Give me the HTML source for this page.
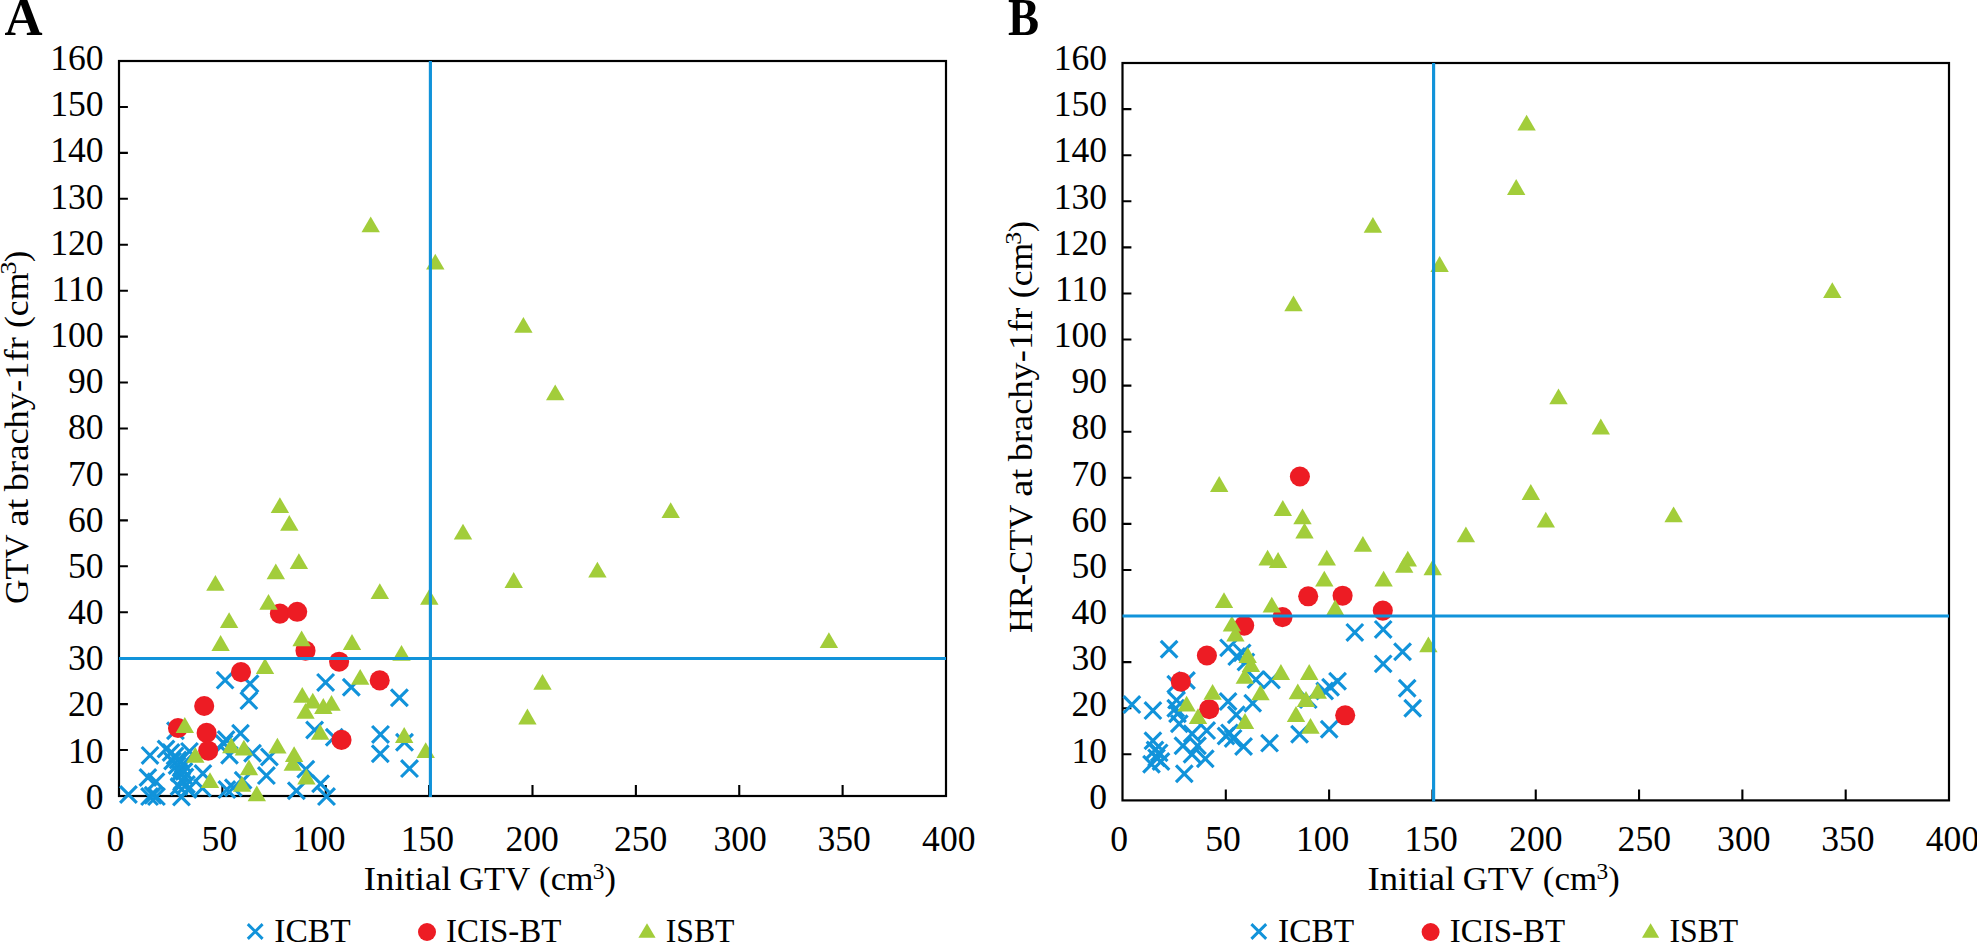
<!DOCTYPE html>
<html><head><meta charset="utf-8"><title>Figure</title>
<style>html,body{margin:0;padding:0;background:#fff;overflow:hidden}svg{display:block}</style>
</head><body>
<svg width="1977" height="943" viewBox="0 0 1977 943">
<rect width="1977" height="943" fill="#fff"/>
<rect x="119" y="61" width="827" height="735" fill="none" stroke="#000" stroke-width="2.2"/>
<path d="M222.38 796V785.1M325.75 796V785.1M429.12 796V785.1M532.50 796V785.1M635.88 796V785.1M739.25 796V785.1M842.62 796V785.1M119 750.06H127.9M119 704.12H127.9M119 658.19H127.9M119 612.25H127.9M119 566.31H127.9M119 520.38H127.9M119 474.44H127.9M119 428.50H127.9M119 382.56H127.9M119 336.62H127.9M119 290.69H127.9M119 244.75H127.9M119 198.81H127.9M119 152.88H127.9M119 106.94H127.9" stroke="#000" stroke-width="2.1" fill="none"/>
<rect x="1122.5" y="63" width="826.5" height="737.4" fill="none" stroke="#000" stroke-width="2.2"/>
<path d="M1225.81 800.4V789.5M1329.12 800.4V789.5M1432.44 800.4V789.5M1535.75 800.4V789.5M1639.06 800.4V789.5M1742.38 800.4V789.5M1845.69 800.4V789.5M1122.5 754.31H1131.4M1122.5 708.23H1131.4M1122.5 662.14H1131.4M1122.5 616.05H1131.4M1122.5 569.96H1131.4M1122.5 523.88H1131.4M1122.5 477.79H1131.4M1122.5 431.70H1131.4M1122.5 385.61H1131.4M1122.5 339.53H1131.4M1122.5 293.44H1131.4M1122.5 247.35H1131.4M1122.5 201.26H1131.4M1122.5 155.18H1131.4M1122.5 109.09H1131.4" stroke="#000" stroke-width="2.1" fill="none"/>
<g stroke="#1193DA" stroke-width="3.15" fill="none"><path d="M216.8 671.8L233.4 688.5M216.8 688.5L233.4 671.8"/><path d="M241.7 675.4L258.4 692.1M241.7 692.1L258.4 675.4"/><path d="M240.5 692.2L257.2 709.0M240.5 709.0L257.2 692.2"/><path d="M317.2 674.0L334.0 690.8M317.2 690.8L334.0 674.0"/><path d="M342.9 678.9L359.7 695.6M342.9 695.6L359.7 678.9"/><path d="M391.0 689.4L407.8 706.1M391.0 706.1L407.8 689.4"/><path d="M306.2 721.6L323.0 738.4M306.2 738.4L323.0 721.6"/><path d="M325.9 728.9L342.7 745.6M325.9 745.6L342.7 728.9"/><path d="M372.1 726.0L388.9 742.8M372.1 742.8L388.9 726.0"/><path d="M371.9 745.4L388.7 762.1M371.9 762.1L388.7 745.4"/><path d="M396.1 733.9L412.9 750.6M396.1 750.6L412.9 733.9"/><path d="M401.1 760.2L417.9 777.0M401.1 777.0L417.9 760.2"/><path d="M297.4 760.9L314.2 777.6M297.4 777.6L314.2 760.9"/><path d="M312.2 775.4L329.0 792.1M312.2 792.1L329.0 775.4"/><path d="M288.0 782.4L304.8 799.1M288.0 799.1L304.8 782.4"/><path d="M318.1 788.2L334.9 805.0M318.1 805.0L334.9 788.2"/><path d="M217.8 731.2L234.4 748.0M217.8 748.0L234.4 731.2"/><path d="M232.2 724.9L248.8 741.6M232.2 741.6L248.8 724.9"/><path d="M215.7 735.1L232.3 751.9M215.7 751.9L232.3 735.1"/><path d="M221.2 746.9L237.8 763.6M221.2 763.6L237.8 746.9"/><path d="M244.2 744.9L260.9 761.6M244.2 761.6L260.9 744.9"/><path d="M261.0 748.6L277.8 765.4M261.0 765.4L277.8 748.6"/><path d="M258.0 767.2L274.8 784.0M258.0 784.0L274.8 767.2"/><path d="M234.8 771.9L251.4 788.6M234.8 788.6L251.4 771.9"/><path d="M218.5 781.2L235.2 798.0M218.5 798.0L235.2 781.2"/><path d="M225.0 779.4L241.7 796.1M225.0 796.1L241.7 779.4"/><path d="M120.1 786.1L136.8 802.9M120.1 802.9L136.8 786.1"/><path d="M141.7 747.0L158.3 763.8M141.7 763.8L158.3 747.0"/><path d="M139.6 769.1L156.2 785.9M139.6 785.9L156.2 769.1"/><path d="M147.7 773.4L164.3 790.1M147.7 790.1L164.3 773.4"/><path d="M141.2 788.2L157.9 805.0M141.2 805.0L157.9 788.2"/><path d="M148.1 788.2L164.8 805.0M148.1 805.0L164.8 788.2"/><path d="M144.7 786.9L161.3 803.6M144.7 803.6L161.3 786.9"/><path d="M173.1 788.6L189.8 805.4M173.1 805.4L189.8 788.6"/><path d="M167.1 722.4L183.8 739.1M167.1 739.1L183.8 722.4"/><path d="M157.7 740.6L174.3 757.4M157.7 757.4L174.3 740.6"/><path d="M162.7 744.1L179.3 760.9M162.7 760.9L179.3 744.1"/><path d="M166.7 747.6L183.3 764.4M166.7 764.4L183.3 747.6"/><path d="M164.2 752.6L180.8 769.4M164.2 769.4L180.8 752.6"/><path d="M169.7 751.6L186.3 768.4M169.7 768.4L186.3 751.6"/><path d="M168.7 757.1L185.3 773.9M168.7 773.9L185.3 757.1"/><path d="M172.7 759.6L189.3 776.4M172.7 776.4L189.3 759.6"/><path d="M171.2 764.6L187.8 781.4M171.2 781.4L187.8 764.6"/><path d="M175.7 763.1L192.3 779.9M175.7 779.9L192.3 763.1"/><path d="M176.7 768.6L193.3 785.4M176.7 785.4L193.3 768.6"/><path d="M173.7 772.6L190.3 789.4M173.7 789.4L190.3 772.6"/><path d="M178.2 776.1L194.8 792.9M178.2 792.9L194.8 776.1"/><path d="M170.7 778.1L187.3 794.9M170.7 794.9L187.3 778.1"/><path d="M179.7 781.1L196.3 797.9M179.7 797.9L196.3 781.1"/><path d="M174.7 755.6L191.3 772.4M174.7 772.4L191.3 755.6"/><path d="M181.1 743.0L197.8 759.8M181.1 759.8L197.8 743.0"/><path d="M194.6 765.1L211.2 781.9M194.6 781.9L211.2 765.1"/><path d="M194.2 779.6L210.8 796.4M194.2 796.4L210.8 779.6"/></g>
<g fill="#ED1C24"><circle cx="279.9" cy="613.6" r="10.05"/><circle cx="297.2" cy="611.8" r="10.05"/><circle cx="305.5" cy="650.7" r="10.05"/><circle cx="339.1" cy="661.7" r="10.05"/><circle cx="379.7" cy="680.4" r="10.05"/><circle cx="241.0" cy="672.1" r="10.05"/><circle cx="204.2" cy="706.0" r="10.05"/><circle cx="178.0" cy="728.0" r="10.05"/><circle cx="206.6" cy="732.9" r="10.05"/><circle cx="208.2" cy="750.7" r="10.05"/><circle cx="341.5" cy="739.9" r="10.05"/></g>
<g fill="#A2CD3A"><path d="M361.5 232.2L370.7 216.4L379.9 232.2Z"/><path d="M426.1 269.6L435.3 253.8L444.5 269.6Z"/><path d="M514.2 332.7L523.4 316.9L532.6 332.7Z"/><path d="M546.0 400.2L555.2 384.4L564.4 400.2Z"/><path d="M661.5 518.1L670.7 502.3L679.9 518.1Z"/><path d="M453.8 539.5L463.0 523.7L472.2 539.5Z"/><path d="M588.2 577.5L597.4 561.7L606.6 577.5Z"/><path d="M504.5 587.9L513.7 572.1L522.9 587.9Z"/><path d="M819.7 648.1L828.9 632.3L838.1 648.1Z"/><path d="M533.3 689.7L542.5 673.9L551.7 689.7Z"/><path d="M518.2 724.4L527.4 708.6L536.6 724.4Z"/><path d="M270.7 513.0L279.9 497.2L289.1 513.0Z"/><path d="M280.1 530.8L289.3 515.0L298.5 530.8Z"/><path d="M289.7 569.0L298.9 553.2L308.1 569.0Z"/><path d="M266.6 579.3L275.8 563.5L285.0 579.3Z"/><path d="M206.2 590.8L215.4 575.0L224.6 590.8Z"/><path d="M370.6 599.0L379.8 583.2L389.0 599.0Z"/><path d="M420.1 604.7L429.3 588.9L438.5 604.7Z"/><path d="M259.3 609.8L268.5 594.0L277.7 609.8Z"/><path d="M219.9 628.1L229.1 612.3L238.3 628.1Z"/><path d="M211.4 650.9L220.6 635.1L229.8 650.9Z"/><path d="M292.4 646.2L301.6 630.4L310.8 646.2Z"/><path d="M342.8 649.9L352.0 634.1L361.2 649.9Z"/><path d="M392.3 660.8L401.5 645.0L410.7 660.8Z"/><path d="M255.8 673.9L265.0 658.1L274.2 673.9Z"/><path d="M351.0 684.7L360.2 668.9L369.4 684.7Z"/><path d="M293.1 702.7L302.3 686.9L311.5 702.7Z"/><path d="M303.6 708.6L312.8 692.8L322.0 708.6Z"/><path d="M314.1 713.9L323.3 698.1L332.5 713.9Z"/><path d="M322.3 710.8L331.5 695.0L340.7 710.8Z"/><path d="M296.3 718.7L305.5 702.9L314.7 718.7Z"/><path d="M175.6 732.9L184.8 717.1L194.0 732.9Z"/><path d="M186.1 762.7L195.3 746.9L204.5 762.7Z"/><path d="M222.1 753.2L231.3 737.4L240.5 753.2Z"/><path d="M234.7 755.5L243.9 739.7L253.1 755.5Z"/><path d="M268.2 753.6L277.4 737.8L286.6 753.6Z"/><path d="M239.8 775.3L249.0 759.5L258.2 775.3Z"/><path d="M200.8 788.1L210.0 772.3L219.2 788.1Z"/><path d="M232.8 791.7L242.0 775.9L251.2 791.7Z"/><path d="M247.6 801.3L256.8 785.5L266.0 801.3Z"/><path d="M310.9 739.8L320.1 724.0L329.3 739.8Z"/><path d="M395.0 742.9L404.2 727.1L413.4 742.9Z"/><path d="M416.5 758.1L425.7 742.3L434.9 758.1Z"/><path d="M284.9 762.1L294.1 746.3L303.3 762.1Z"/><path d="M283.6 770.7L292.8 754.9L302.0 770.7Z"/><path d="M297.2 784.4L306.4 768.6L315.6 784.4Z"/></g>
<g stroke="#1193DA" stroke-width="3.15" fill="none"><path d="M1160.8 640.9L1177.4 657.6M1160.8 657.6L1177.4 640.9"/><path d="M1220.2 639.5L1236.8 656.2M1220.2 656.2L1236.8 639.5"/><path d="M1233.9 644.5L1250.5 661.2M1233.9 661.2L1250.5 644.5"/><path d="M1228.4 648.2L1245.0 665.0M1228.4 665.0L1245.0 648.2"/><path d="M1237.6 653.6L1254.2 670.4M1237.6 670.4L1254.2 653.6"/><path d="M1123.6 696.2L1140.2 713.0M1123.6 713.0L1140.2 696.2"/><path d="M1144.6 702.2L1161.2 719.0M1144.6 719.0L1161.2 702.2"/><path d="M1167.4 675.8L1184.0 692.5M1167.4 692.5L1184.0 675.8"/><path d="M1178.1 672.1L1194.8 688.9M1178.1 688.9L1194.8 672.1"/><path d="M1168.2 691.8L1184.9 708.5M1168.2 708.5L1184.9 691.8"/><path d="M1167.4 699.9L1184.0 716.6M1167.4 716.6L1184.0 699.9"/><path d="M1169.2 705.4L1185.8 722.1M1169.2 722.1L1185.8 705.4"/><path d="M1171.0 715.4L1187.6 732.1M1171.0 732.1L1187.6 715.4"/><path d="M1144.6 732.4L1161.2 749.1M1144.6 749.1L1161.2 732.4"/><path d="M1174.6 737.4L1191.2 754.1M1174.6 754.1L1191.2 737.4"/><path d="M1183.8 725.4L1200.4 742.1M1183.8 742.1L1200.4 725.4"/><path d="M1198.4 722.2L1215.0 739.0M1198.4 739.0L1215.0 722.2"/><path d="M1189.2 737.4L1205.8 754.1M1189.2 754.1L1205.8 737.4"/><path d="M1219.8 693.1L1236.4 709.9M1219.8 709.9L1236.4 693.1"/><path d="M1228.0 706.4L1244.6 723.1M1228.0 723.1L1244.6 706.4"/><path d="M1244.4 694.9L1261.0 711.6M1244.4 711.6L1261.0 694.9"/><path d="M1247.6 671.2L1264.2 688.0M1247.6 688.0L1264.2 671.2"/><path d="M1263.1 671.6L1279.8 688.4M1263.1 688.4L1279.8 671.6"/><path d="M1221.2 724.5L1237.8 741.2M1221.2 741.2L1237.8 724.5"/><path d="M1224.8 730.0L1241.4 746.8M1224.8 746.8L1241.4 730.0"/><path d="M1217.7 727.6L1234.3 744.4M1217.7 744.4L1234.3 727.6"/><path d="M1235.2 738.1L1251.9 754.9M1235.2 754.9L1251.9 738.1"/><path d="M1261.2 734.8L1277.9 751.5M1261.2 751.5L1277.9 734.8"/><path d="M1150.9 744.5L1167.5 761.2M1150.9 761.2L1167.5 744.5"/><path d="M1148.2 749.5L1164.8 766.2M1148.2 766.2L1164.8 749.5"/><path d="M1143.2 755.9L1159.8 772.6M1143.2 772.6L1159.8 755.9"/><path d="M1152.7 753.1L1169.3 769.9M1152.7 769.9L1169.3 753.1"/><path d="M1146.7 741.6L1163.3 758.4M1146.7 758.4L1163.3 741.6"/><path d="M1183.7 745.9L1200.3 762.6M1183.7 762.6L1200.3 745.9"/><path d="M1197.0 750.4L1213.6 767.1M1197.0 767.1L1213.6 750.4"/><path d="M1176.0 765.4L1192.6 782.1M1176.0 782.1L1192.6 765.4"/><path d="M1346.5 624.0L1363.1 640.8M1346.5 640.8L1363.1 624.0"/><path d="M1374.9 621.0L1391.5 637.8M1374.9 637.8L1391.5 621.0"/><path d="M1394.2 643.4L1410.9 660.1M1394.2 660.1L1410.9 643.4"/><path d="M1374.9 655.5L1391.5 672.2M1374.9 672.2L1391.5 655.5"/><path d="M1329.2 672.9L1345.9 689.6M1329.2 689.6L1345.9 672.9"/><path d="M1322.2 678.9L1338.9 695.6M1322.2 695.6L1338.9 678.9"/><path d="M1316.4 682.6L1333.0 699.4M1316.4 699.4L1333.0 682.6"/><path d="M1300.0 691.2L1316.6 708.0M1300.0 708.0L1316.6 691.2"/><path d="M1398.9 679.9L1415.5 696.6M1398.9 696.6L1415.5 679.9"/><path d="M1404.4 699.9L1421.0 716.6M1404.4 716.6L1421.0 699.9"/><path d="M1320.9 720.9L1337.5 737.6M1320.9 737.6L1337.5 720.9"/><path d="M1291.2 725.9L1307.9 742.6M1291.2 742.6L1307.9 725.9"/></g>
<g fill="#ED1C24"><circle cx="1299.9" cy="476.5" r="10.05"/><circle cx="1308.2" cy="596.3" r="10.05"/><circle cx="1342.6" cy="595.7" r="10.05"/><circle cx="1382.8" cy="610.6" r="10.05"/><circle cx="1282.5" cy="617.1" r="10.05"/><circle cx="1244.2" cy="625.6" r="10.05"/><circle cx="1206.9" cy="655.5" r="10.05"/><circle cx="1180.8" cy="681.7" r="10.05"/><circle cx="1209.2" cy="709.2" r="10.05"/><circle cx="1345.2" cy="715.3" r="10.05"/></g>
<g fill="#A2CD3A"><path d="M1517.4 130.6L1526.6 114.8L1535.8 130.6Z"/><path d="M1507.0 194.9L1516.2 179.1L1525.4 194.9Z"/><path d="M1363.7 232.8L1372.9 217.0L1382.1 232.8Z"/><path d="M1430.4 271.9L1439.6 256.1L1448.8 271.9Z"/><path d="M1284.3 311.3L1293.5 295.5L1302.7 311.3Z"/><path d="M1823.1 298.1L1832.3 282.3L1841.5 298.1Z"/><path d="M1549.3 404.2L1558.5 388.4L1567.7 404.2Z"/><path d="M1591.6 434.4L1600.8 418.6L1610.0 434.4Z"/><path d="M1521.6 499.9L1530.8 484.1L1540.0 499.9Z"/><path d="M1536.6 527.6L1545.8 511.8L1555.0 527.6Z"/><path d="M1664.4 522.2L1673.6 506.4L1682.8 522.2Z"/><path d="M1456.7 542.2L1465.9 526.4L1475.1 542.2Z"/><path d="M1210.0 491.9L1219.2 476.1L1228.4 491.9Z"/><path d="M1273.6 515.9L1282.8 500.1L1292.0 515.9Z"/><path d="M1293.3 524.2L1302.5 508.4L1311.7 524.2Z"/><path d="M1295.3 538.6L1304.5 522.8L1313.7 538.6Z"/><path d="M1353.7 551.8L1362.9 536.0L1372.1 551.8Z"/><path d="M1258.4 565.6L1267.6 549.8L1276.8 565.6Z"/><path d="M1268.9 567.9L1278.1 552.1L1287.3 567.9Z"/><path d="M1317.6 565.6L1326.8 549.8L1336.0 565.6Z"/><path d="M1398.6 566.5L1407.8 550.7L1417.0 566.5Z"/><path d="M1395.0 572.8L1404.2 557.0L1413.4 572.8Z"/><path d="M1423.5 575.2L1432.7 559.4L1441.9 575.2Z"/><path d="M1315.1 586.6L1324.3 570.8L1333.5 586.6Z"/><path d="M1374.4 586.6L1383.6 570.8L1392.8 586.6Z"/><path d="M1214.8 608.0L1224.0 592.2L1233.2 608.0Z"/><path d="M1262.6 612.5L1271.8 596.7L1281.0 612.5Z"/><path d="M1326.0 615.4L1335.2 599.6L1344.4 615.4Z"/><path d="M1222.7 631.5L1231.9 615.7L1241.1 631.5Z"/><path d="M1226.2 641.6L1235.4 625.8L1244.6 641.6Z"/><path d="M1238.5 662.9L1247.7 647.1L1256.9 662.9Z"/><path d="M1241.7 672.1L1250.9 656.3L1260.1 672.1Z"/><path d="M1271.7 679.9L1280.9 664.1L1290.1 679.9Z"/><path d="M1235.6 683.7L1244.8 667.9L1254.0 683.7Z"/><path d="M1203.4 699.7L1212.6 683.9L1221.8 699.7Z"/><path d="M1177.4 711.6L1186.6 695.8L1195.8 711.6Z"/><path d="M1188.8 724.0L1198.0 708.2L1207.2 724.0Z"/><path d="M1251.3 700.3L1260.5 684.5L1269.7 700.3Z"/><path d="M1235.8 728.9L1245.0 713.1L1254.2 728.9Z"/><path d="M1419.2 652.2L1428.4 636.4L1437.6 652.2Z"/><path d="M1300.0 679.9L1309.2 664.1L1318.4 679.9Z"/><path d="M1288.6 699.3L1297.8 683.5L1307.0 699.3Z"/><path d="M1308.6 698.8L1317.8 683.0L1327.0 698.8Z"/><path d="M1296.8 706.9L1306.0 691.1L1315.2 706.9Z"/><path d="M1286.8 721.9L1296.0 706.1L1305.2 721.9Z"/><path d="M1301.3 733.7L1310.5 717.9L1319.7 733.7Z"/></g>
<g stroke="#1193DA" stroke-width="3.15" fill="none">
<path d="M430.4 61V797M119 658.5H946"/>
<path d="M1433.6 63V801.4M1122.5 616H1949"/>
</g>
<g font-family="Liberation Serif, serif" fill="#000">
<text x="103.5" y="808.8" font-size="35.6" text-anchor="end">0</text>
<text x="1107.0" y="808.8" font-size="35.6" text-anchor="end">0</text>
<text x="103.5" y="762.6" font-size="35.6" text-anchor="end">10</text>
<text x="1107.0" y="762.6" font-size="35.6" text-anchor="end">10</text>
<text x="103.5" y="716.4" font-size="35.6" text-anchor="end">20</text>
<text x="1107.0" y="716.4" font-size="35.6" text-anchor="end">20</text>
<text x="103.5" y="670.3" font-size="35.6" text-anchor="end">30</text>
<text x="1107.0" y="670.3" font-size="35.6" text-anchor="end">30</text>
<text x="103.5" y="624.1" font-size="35.6" text-anchor="end">40</text>
<text x="1107.0" y="624.1" font-size="35.6" text-anchor="end">40</text>
<text x="103.5" y="577.9" font-size="35.6" text-anchor="end">50</text>
<text x="1107.0" y="577.9" font-size="35.6" text-anchor="end">50</text>
<text x="103.5" y="531.8" font-size="35.6" text-anchor="end">60</text>
<text x="1107.0" y="531.8" font-size="35.6" text-anchor="end">60</text>
<text x="103.5" y="485.6" font-size="35.6" text-anchor="end">70</text>
<text x="1107.0" y="485.6" font-size="35.6" text-anchor="end">70</text>
<text x="103.5" y="439.4" font-size="35.6" text-anchor="end">80</text>
<text x="1107.0" y="439.4" font-size="35.6" text-anchor="end">80</text>
<text x="103.5" y="393.2" font-size="35.6" text-anchor="end">90</text>
<text x="1107.0" y="393.2" font-size="35.6" text-anchor="end">90</text>
<text x="103.5" y="347.0" font-size="35.6" text-anchor="end">100</text>
<text x="1107.0" y="347.0" font-size="35.6" text-anchor="end">100</text>
<text x="103.5" y="300.9" font-size="35.6" text-anchor="end">110</text>
<text x="1107.0" y="300.9" font-size="35.6" text-anchor="end">110</text>
<text x="103.5" y="254.7" font-size="35.6" text-anchor="end">120</text>
<text x="1107.0" y="254.7" font-size="35.6" text-anchor="end">120</text>
<text x="103.5" y="208.5" font-size="35.6" text-anchor="end">130</text>
<text x="1107.0" y="208.5" font-size="35.6" text-anchor="end">130</text>
<text x="103.5" y="162.4" font-size="35.6" text-anchor="end">140</text>
<text x="1107.0" y="162.4" font-size="35.6" text-anchor="end">140</text>
<text x="103.5" y="116.2" font-size="35.6" text-anchor="end">150</text>
<text x="1107.0" y="116.2" font-size="35.6" text-anchor="end">150</text>
<text x="103.5" y="70.0" font-size="35.6" text-anchor="end">160</text>
<text x="1107.0" y="70.0" font-size="35.6" text-anchor="end">160</text>
<text x="106.6" y="850.8" font-size="35.6">0</text>
<text x="1110.3" y="850.8" font-size="35.6">0</text>
<text x="201.6" y="850.8" font-size="35.6">50</text>
<text x="1205.3" y="850.8" font-size="35.6">50</text>
<text x="292.2" y="850.8" font-size="35.6">100</text>
<text x="1295.9" y="850.8" font-size="35.6">100</text>
<text x="400.7" y="850.8" font-size="35.6">150</text>
<text x="1404.4" y="850.8" font-size="35.6">150</text>
<text x="505.4" y="850.8" font-size="35.6">200</text>
<text x="1509.1" y="850.8" font-size="35.6">200</text>
<text x="613.9" y="850.8" font-size="35.6">250</text>
<text x="1617.6" y="850.8" font-size="35.6">250</text>
<text x="713.4" y="850.8" font-size="35.6">300</text>
<text x="1717.1" y="850.8" font-size="35.6">300</text>
<text x="817.5" y="850.8" font-size="35.6">350</text>
<text x="1821.2" y="850.8" font-size="35.6">350</text>
<text x="922.1" y="850.8" font-size="35.6">400</text>
<text x="1925.8" y="850.8" font-size="35.6">400</text>
<text transform="translate(363.83,890.40) scale(1.0337,0.9676)" font-size="35.5">Initial</text>
<text transform="translate(459.12,890.40) scale(0.9732,0.9676)" font-size="35.5">GTV</text>
<text transform="translate(539.10,890.40) scale(0.9840,0.9676)" font-size="35.5">(cm</text>
<text transform="translate(592.73,879.18) scale(0.6596,0.6317)" font-size="35.5">3</text>
<text transform="translate(604.57,890.40) scale(0.9697,0.9676)" font-size="35.5">)</text>
<text transform="translate(1367.53,890.40) scale(1.0337,0.9676)" font-size="35.5">Initial</text>
<text transform="translate(1462.82,890.40) scale(0.9732,0.9676)" font-size="35.5">GTV</text>
<text transform="translate(1542.80,890.40) scale(0.9840,0.9676)" font-size="35.5">(cm</text>
<text transform="translate(1596.43,879.18) scale(0.6596,0.6317)" font-size="35.5">3</text>
<text transform="translate(1608.27,890.40) scale(0.9697,0.9676)" font-size="35.5">)</text>
<text transform="translate(27.60,603.96) rotate(-90) scale(0.9549,0.9676)" font-size="35.5">GTV</text>
<text transform="translate(27.60,526.55) rotate(-90) scale(1.0895,0.9676)" font-size="35.5">at</text>
<text transform="translate(27.60,491.20) rotate(-90) scale(1.0284,0.9676)" font-size="35.5">brachy-1fr</text>
<text transform="translate(27.60,328.03) rotate(-90) scale(1.0047,0.9676)" font-size="35.5">(cm</text>
<text transform="translate(16.37,274.39) rotate(-90) scale(0.7283,0.6402)" font-size="35.5">3</text>
<text transform="translate(27.60,261.90) rotate(-90) scale(0.9426,0.9676)" font-size="35.5">)</text>
<text transform="translate(1031.80,633.03) rotate(-90) scale(0.9714,0.9676)" font-size="35.5">HR-CTV</text>
<text transform="translate(1031.80,496.75) rotate(-90) scale(1.0895,0.9676)" font-size="35.5">at</text>
<text transform="translate(1031.80,461.20) rotate(-90) scale(1.0251,0.9676)" font-size="35.5">brachy-1fr</text>
<text transform="translate(1031.80,298.22) rotate(-90) scale(1.0028,0.9676)" font-size="35.5">(cm</text>
<text transform="translate(1020.57,244.69) rotate(-90) scale(0.7283,0.6402)" font-size="35.5">3</text>
<text transform="translate(1031.80,232.08) rotate(-90) scale(0.9209,0.9676)" font-size="35.5">)</text>
<text transform="translate(274.36,942.00) scale(0.9428,0.9633)" font-size="35.5">ICBT</text>
<text transform="translate(446.08,942.00) scale(0.9278,0.9633)" font-size="35.5">ICIS-BT</text>
<text transform="translate(665.73,942.00) scale(0.8945,0.9633)" font-size="35.5">ISBT</text>
<text transform="translate(1278.06,942.00) scale(0.9428,0.9633)" font-size="35.5">ICBT</text>
<text transform="translate(1449.78,942.00) scale(0.9278,0.9633)" font-size="35.5">ICIS-BT</text>
<text transform="translate(1669.43,942.00) scale(0.8945,0.9633)" font-size="35.5">ISBT</text>
<text transform="translate(4.47,34.70) scale(0.9946,1.0063)" font-size="53" font-weight="bold">A</text>
<text transform="translate(1008.07,34.70) scale(0.8795,1.0024)" font-size="53" font-weight="bold">B</text>
</g>
<g stroke="#1193DA" stroke-width="2.9" fill="none"><path d="M247.8 924.1L262.6 938.9M247.8 938.9L262.6 924.1"/></g>
<g fill="#ED1C24"><circle cx="427.0" cy="932.0" r="9.0"/></g>
<g fill="#A2CD3A"><path d="M638.4 937.8L647.0 923.2L655.6 937.8Z"/></g>
<g stroke="#1193DA" stroke-width="2.9" fill="none"><path d="M1251.4 924.1L1266.2 938.9M1251.4 938.9L1266.2 924.1"/></g>
<g fill="#ED1C24"><circle cx="1430.6" cy="932.0" r="9.0"/></g>
<g fill="#A2CD3A"><path d="M1642.0 937.8L1650.6 923.2L1659.2 937.8Z"/></g>
</svg>
</body></html>
